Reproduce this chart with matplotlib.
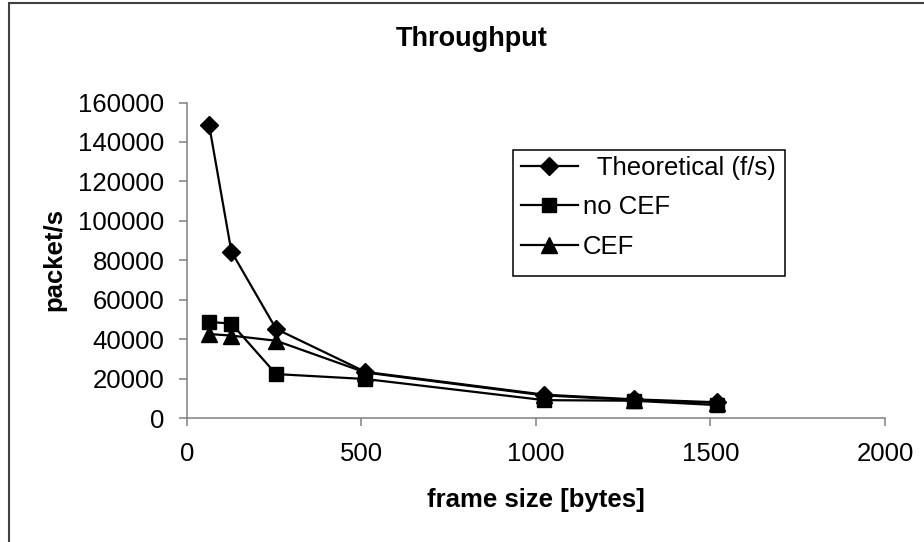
import matplotlib
matplotlib.use("Agg")
from matplotlib import pyplot as plt
from matplotlib.patches import Rectangle

plt.rcParams['font.family'] = ['Liberation Sans', 'DejaVu Sans']

# frame sizes (bytes)
frame_size = [64, 128, 256, 512, 1024, 1280, 1518]
# packets per second
theoretical = [148810, 84459, 45290, 23496, 11973, 9615, 8127]
no_cef = [48800, 48000, 22400, 19900, 9200, 8900, 6700]
cef = [42700, 41900, 39300, 23200, 11600, 9300, 7800]

W, H = 924, 542
fig = plt.figure(figsize=(W/100, H/100), dpi=100)
x0, x1, y0, y1 = 186.7, 885, 418.3, 102.5
ax = fig.add_axes([x0/W, 1 - y0/H, (x1 - x0)/W, (y0 - y1)/H])

ax.plot(frame_size, theoretical, color='black', lw=1.6, marker='D', ms=9,
        label='  Theoretical (f/s)')
ax.plot(frame_size, no_cef, color='black', lw=1.6, marker='s', ms=10,
        label='no CEF')
ax.plot(frame_size, cef, color='black', lw=1.6, marker='^', ms=11,
        label='CEF')

ax.set_xlim(0, 2000)
ax.set_ylim(0, 160000)
ax.set_xticks(range(0, 2001, 500))
ax.set_yticks(range(0, 160001, 20000))
for s in ['top', 'right']:
    ax.spines[s].set_visible(False)
for s in ['left', 'bottom']:
    ax.spines[s].set_color('#808080')
    ax.spines[s].set_linewidth(1.1)
ax.tick_params(direction='out', length=6, width=1.1, color='#808080',
               labelsize=18.5)
ax.tick_params(axis='y', pad=10)
ax.tick_params(axis='x', pad=11)

fig.text(472/W, 1 - 46/H, 'Throughput', fontsize=19.5, fontweight='bold',
         ha='center', va='baseline')
fig.text(54/W, 1 - 260/H, 'packet/s', fontsize=18.5, fontweight='bold',
         rotation=90, ha='center', va='center')
fig.text(536/W, 1 - 507/H, 'frame size [bytes]', fontsize=18.5,
         fontweight='bold', ha='center', va='baseline')

# legend entries, box drawn separately
leg = ax.legend(loc='upper left', bbox_to_anchor=(521/W, 1 - 156/H),
                bbox_transform=fig.transFigure,
                frameon=False, fontsize=18.5, handlelength=2.2,
                handletextpad=0.2, borderpad=0, labelspacing=0.6,
                borderaxespad=0)
fig.patches.append(Rectangle((513/W, 1 - 276/H), (785 - 513)/W, (276 - 150)/H,
                             transform=fig.transFigure, fill=False,
                             edgecolor='black', lw=1.1))

# outer chart border
fig.patches.append(Rectangle((9/W, -0.1), 1.2, 1 - 3/H + 0.1,
                             transform=fig.transFigure, fill=False,
                             edgecolor='#404040', lw=1.5))

fig.savefig('out.png', dpi=100)
